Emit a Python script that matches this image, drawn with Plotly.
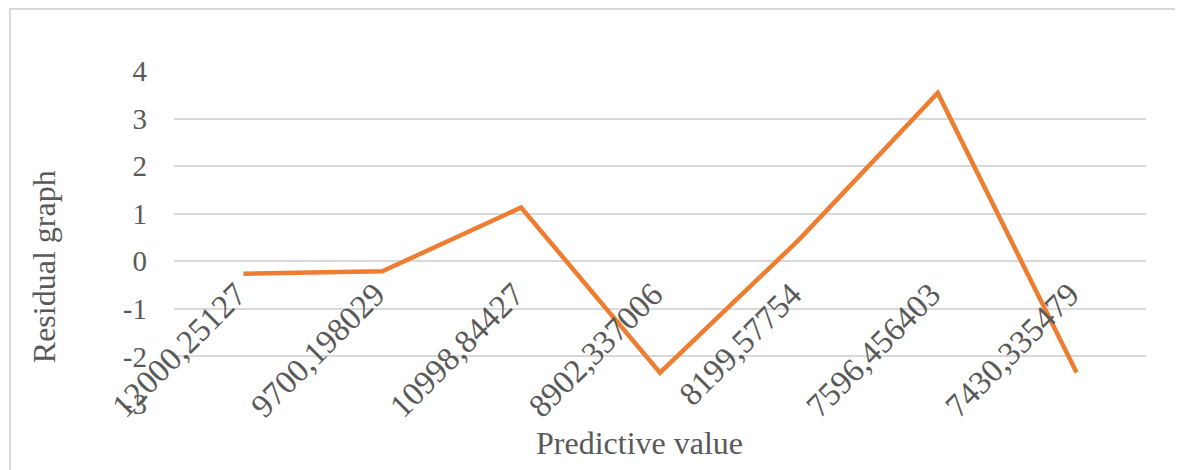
import plotly.graph_objects as go

# predicted values (x categories) and residuals
predicted = ["12000,25127", "9700,198029", "10998,84427", "8902,337006",
             "8199,57754", "7596,456403", "7430,335479"]
residuals = [-0.26, -0.21, 1.13, -2.34, 0.45, 3.54, -2.34]
y_ticks = [-3, -2, -1, 0, 1, 2, 3, 4]
y_tick_text = ["-3", "-2", "-1", "0", "1", "2", "3", "4"]

grey_text = "#595959"
grid = "#d9d9d9"
serif = "Liberation Serif, Times New Roman, serif"

fig = go.Figure()
fig.add_trace(go.Scatter(x = predicted, y = residuals, mode = "lines",
                         line = dict(color = "#ed7d31", width = 4.5), showlegend = False))

fig.update_xaxes(type = "category", range = [-0.5, 6.5], anchor = "free", position = 0.41,
                 showgrid = False, showline = False, zeroline = False, ticks = "",
                 tickangle = -45, ticklabelshift = -7,
                 tickfont = dict(family = serif, size = 33, color = grey_text), automargin = False)
fig.update_yaxes(range = [-3, 4], tickvals = y_ticks, ticktext = y_tick_text,
                 showgrid = True, gridcolor = grid, gridwidth = 1.5,
                 zeroline = False, showline = False, ticks = "", ticklabelstandoff = 26,
                 tickfont = dict(family = serif, size = 29, color = grey_text), automargin = False)

fig.add_annotation(text = "Predictive value", xref = "paper", yref = "paper", x = 0.4794, y = -0.117,
                   showarrow = False, xanchor = "center", yanchor = "middle",
                   font = dict(family = serif, size = 32, color = grey_text))
fig.add_annotation(text = "Residual graph", xref = "paper", yref = "paper", x = -0.1337, y = 0.411,
                   showarrow = False, textangle = -90, xanchor = "center", yanchor = "middle",
                   font = dict(family = serif, size = 32, color = grey_text))

# light outer frame of the chart
fig.add_shape(type = "rect", xref = "paper", yref = "paper", x0 = -0.1687, x1 = 1.036, y0 = -0.21, y1 = 1.186,
              line = dict(color = grid, width = 2), layer = "below")

# the page adds an 8px body margin, so margins are trimmed by 8 on the top/left
fig.update_layout(template = "none", width = 1183, height = 470,
                  margin = dict(l = 166, r = 45, t = 63, b = 74),
                  plot_bgcolor = "white", paper_bgcolor = "white")

fig.write_html("out.html")
